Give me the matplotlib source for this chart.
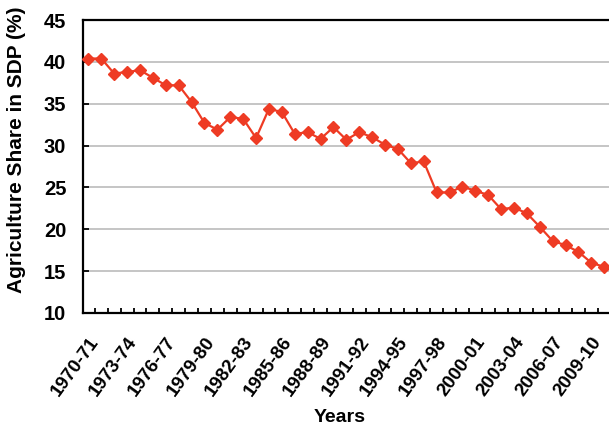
import matplotlib
matplotlib.use("Agg")
import matplotlib.pyplot as plt
from matplotlib.transforms import ScaledTranslation

# ----------------------- data -----------------------
YEARS = [f"{y}-{str(y + 1)[-2:]}" for y in range(1970, 2011)]
AGRI_SHARE = [
    40.4, 40.4, 38.6, 38.8, 39.0, 38.1, 37.2, 37.2, 35.2, 32.7,
    31.9, 33.4, 33.2, 30.9, 34.4, 34.0, 31.4, 31.6, 30.8, 32.2,
    30.7, 31.6, 31.0, 30.1, 29.6, 27.9, 28.1, 24.4, 24.4, 25.1,
    24.6, 24.1, 22.4, 22.6, 21.9, 20.3, 18.6, 18.1, 17.3, 16.0,
    15.5,
]
Y_TICKS = [10, 15, 20, 25, 30, 35, 40, 45]

RED = "#EE3B24"
GRID = "#C0C0C0"

plt.rcParams["font.family"] = ["Liberation Sans", "DejaVu Sans"]
plt.rcParams["font.weight"] = "bold"

fig = plt.figure(figsize=(6.09, 4.28), dpi=100)
ax = fig.add_axes([83 / 609, 1 - 313 / 428, (612 - 83) / 609, (313 - 20) / 428])

x = list(range(len(YEARS)))
ax.plot(x, AGRI_SHARE, color=RED, lw=1.6, marker="D", ms=6.5,
        mec=RED, mfc=RED, zorder=3, clip_on=False)

ax.set_ylim(10, 45)
ax.set_yticks(Y_TICKS)
ax.set_xlim(-0.42, len(YEARS) - 1 + 0.6)
ax.yaxis.grid(True, color=GRID, lw=1.3)
ax.set_axisbelow(True)

tick_idx = x[::3]
ax.set_xticks(tick_idx)
ax.set_xticklabels([YEARS[i] for i in tick_idx], rotation=54, ha="right",
                   va="top", rotation_mode="anchor", fontsize=13.5,
                   fontweight="bold")
shift = ScaledTranslation(5 / 100, 0, fig.dpi_scale_trans)
for lbl in ax.get_xticklabels():
    lbl.set_transform(lbl.get_transform() + shift)
ax.set_xticks([i + 0.5 for i in x[:-1]], minor=True)
ax.tick_params(axis="x", which="major", length=0, pad=15)
ax.tick_params(axis="x", which="minor", direction="in", length=3.5, width=1.3)
ax.tick_params(axis="y", direction="in", length=4, width=1.3,
               labelsize=14.5, pad=12)
for lbl in ax.get_yticklabels():
    lbl.set_fontweight("bold")

for side in ("left", "bottom", "top"):
    ax.spines[side].set_linewidth(1.6)
    ax.spines[side].set_color("black")
ax.spines["right"].set_visible(False)

ax.set_ylabel("Agriculture Share in SDP (%)", fontsize=15, fontweight="bold",
              va="center")
ax.yaxis.set_label_coords((17 - 83) / 529, (313 - 150) / 293)
ax.set_xlabel("Years", fontsize=14, fontweight="bold", va="center")
ax.xaxis.set_label_coords((340 - 83) / 529, -(417 - 313) / 293)

fig.savefig("out.png", dpi=100)
